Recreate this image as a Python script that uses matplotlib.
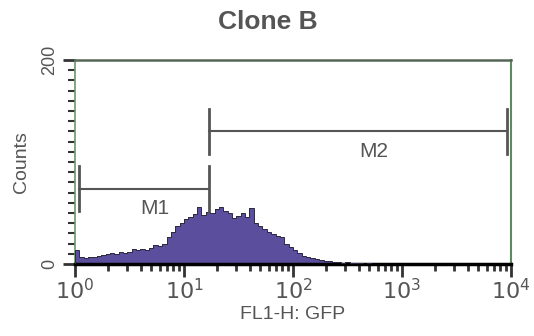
import numpy as np
import matplotlib.pyplot as plt
from matplotlib.ticker import FixedLocator, LogLocator, NullFormatter

plt.rcParams['font.family'] = ['Liberation Sans', 'DejaVu Sans']

# histogram: 100 bins, 0.04 decade wide, from 10^0 to 10^4
bin_edges_log = np.linspace(0, 4, 101)
counts = [14, 7, 6, 7, 7, 8, 9, 10, 11, 10,
          12, 11, 12, 15, 14, 15, 14, 16, 19, 18,
          20, 26, 31, 37, 40, 44, 46, 49, 56, 48,
          51, 50, 54, 56, 52, 50, 45, 47, 50, 46,
          55, 40, 37, 34, 31, 29, 27, 26, 20, 17,
          14, 11, 8, 7, 6, 5, 4, 3, 3, 2,
          2, 1, 2, 1, 1, 1, 0, 1, 0, 0,
          0, 0, 0, 0, 0, 0, 0, 0, 0, 0,
          0, 0, 0, 0, 0, 0, 0, 0, 0, 0,
          0, 0, 0, 0, 0, 0, 0, 0, 0, 0]

# marker gates (start, end, level) and their labels
gate_names = ['M1', 'M2']
gate_start = [1.09, 17]
gate_end = [17, 9150]
gate_level = [74, 130]
label_x = [5.4, 550]

fig = plt.figure(figsize=(5.34, 3.36), dpi=100)
ax = fig.add_axes([75 / 534, 1 - 264 / 336, 436 / 534, 204 / 336])

edges = 10 ** bin_edges_log
ax.stairs(counts, edges, fill=True, color='#5b4e9c', zorder=2)
ax.stairs(counts, edges, color='#2a2a40', lw=0.7, zorder=3)

ax.set_xscale('log')
ax.set_xlim(1, 1e4)
ax.set_ylim(0, 200)

# gates
for name, a, b, lev, lx in zip(gate_names, gate_start, gate_end, gate_level, label_x):
    ax.plot([a, b], [lev, lev], color='#555555', lw=1.5, zorder=4)
    ax.plot([a, a], [lev - 22, lev + 22], color='#555555', lw=2, zorder=4)
    ax.plot([b, b], [lev - 22, lev + 22], color='#555555', lw=2, zorder=4)
    ax.text(lx, lev - 10, name, ha='center', va='top', fontsize=15, color='#555555')

# axes style
ax.spines['bottom'].set_color('black')
ax.spines['bottom'].set_linewidth(2.5)
ax.spines['top'].set_color('#556655')
ax.spines['top'].set_linewidth(1.8)
ax.spines['right'].set_color('#5f8a5f')
ax.spines['right'].set_linewidth(1.5)
ax.spines['left'].set_color('#6a9a6a')
ax.spines['left'].set_linewidth(1.2)

ax.xaxis.set_major_locator(FixedLocator([1, 10, 100, 1000, 10000]))
ax.xaxis.set_minor_locator(LogLocator(base=10, subs=np.arange(2, 10)))
ax.xaxis.set_minor_formatter(NullFormatter())
ax.set_xticklabels(['$10^{0}$', '$10^{1}$', '$10^{2}$', '$10^{3}$', '$10^{4}$'])
ax.tick_params(axis='x', which='major', length=9, width=2, color='#333333',
               labelsize=16, labelcolor='#555555', pad=2)
ax.tick_params(axis='x', which='minor', length=5, width=2, color='#333333')

ax.set_yticks([0, 200])
ax.set_yticks(np.arange(0, 201, 10), minor=True)
ax.set_yticklabels(['0', '200'], rotation=90, va='center')
ax.tick_params(axis='y', which='major', length=9, width=2, color='#333333',
               labelsize=13, labelcolor='#555555', pad=3)
ax.tick_params(axis='y', which='minor', length=5, width=1.5, color='#333333')

ax.set_xlabel('FL1-H: GFP', fontsize=14, color='#555555', labelpad=1)
ax.set_ylabel('Counts', fontsize=14, color='#555555', labelpad=8)

fig.text(268 / 534, 1 - 22 / 336, 'Clone B', ha='center', va='center',
         fontsize=19, fontweight='bold', color='#555555')

fig.savefig('out.png', dpi=100, facecolor='white')
